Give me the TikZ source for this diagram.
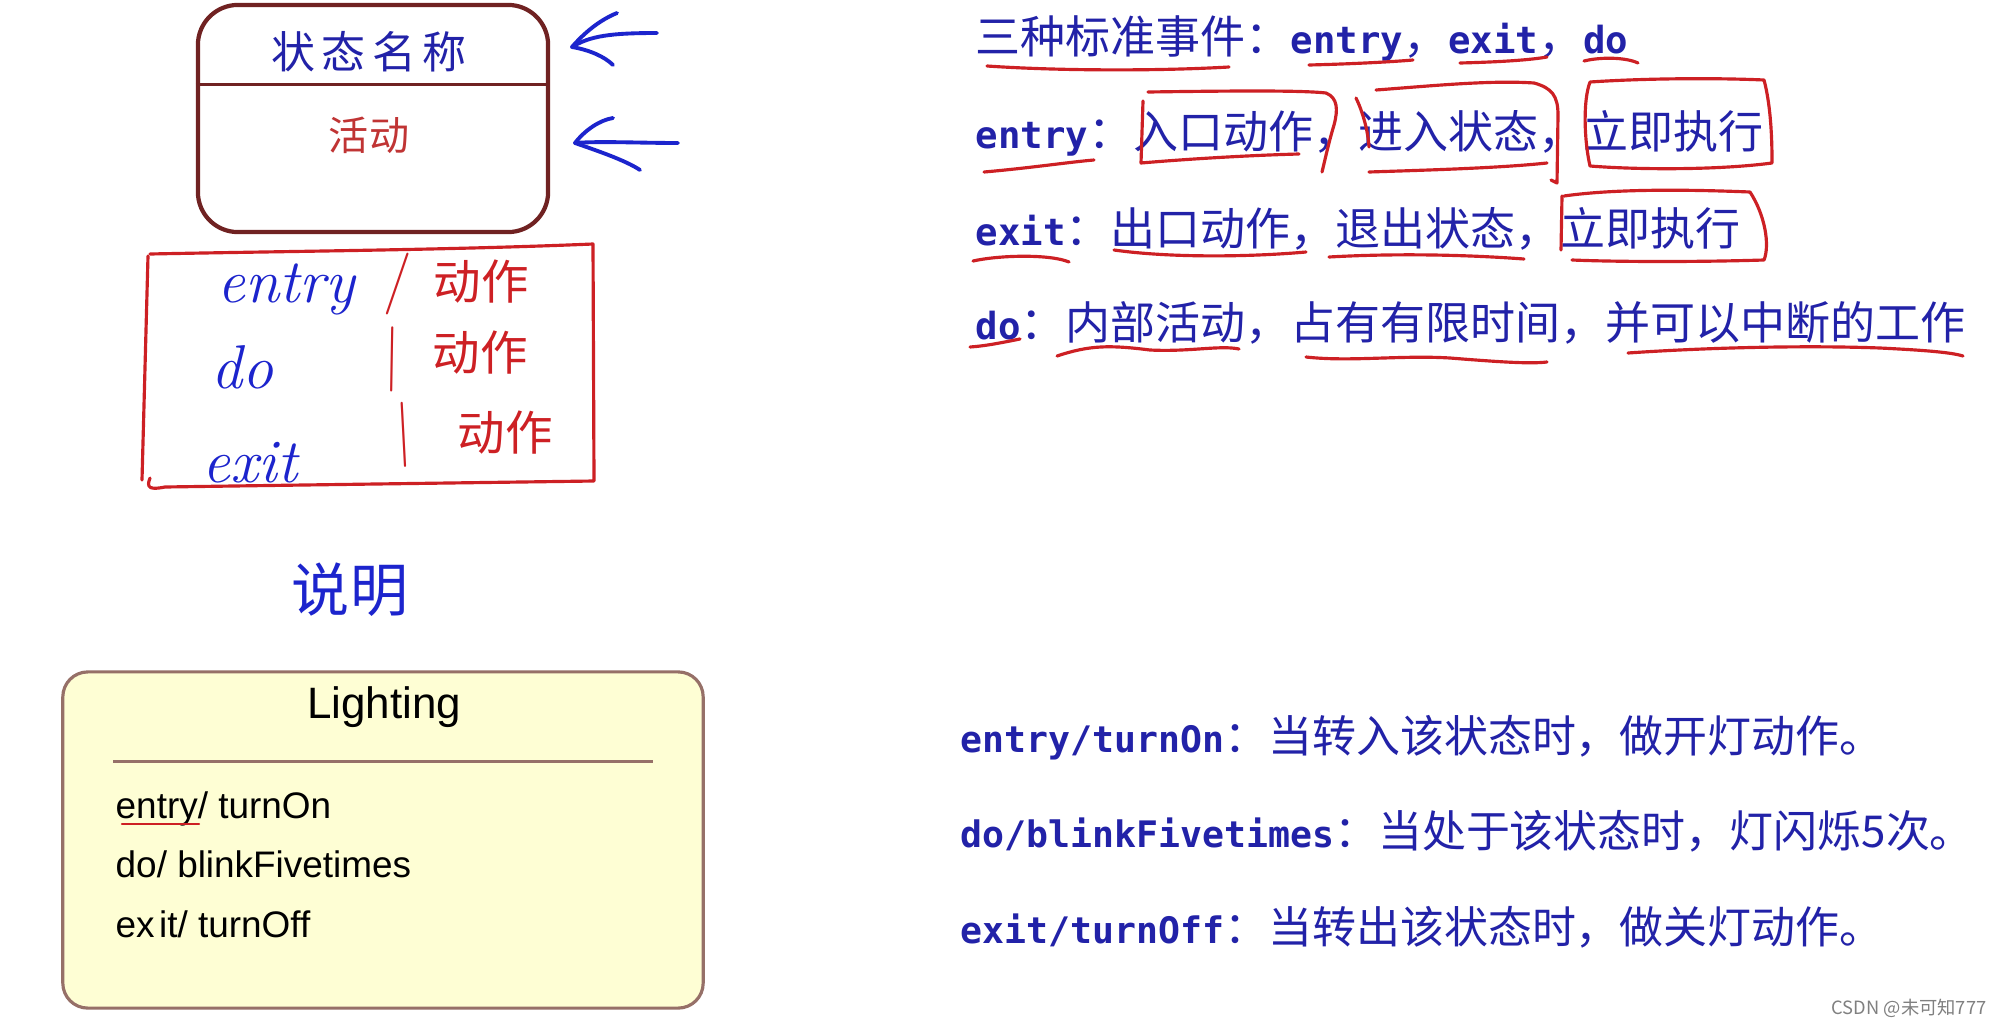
\documentclass[tikz,border=0pt]{standalone}
\usepackage{fontspec}
\usepackage{tikz}
\usetikzlibrary{calc}
\newfontfamily\cjk{Noto Sans CJK SC}
\newfontfamily\cjkwide{Noto Sans CJK SC}[LetterSpace=15]
\newfontfamily\mono{DejaVu Sans Mono}[Scale=0.83]
\newfontfamily\arial{Liberation Sans}
\newcommand{\kw}[1]{{\mono\bfseries #1}}
\definecolor{txtblue}{RGB}{34,34,168}
\definecolor{inkblue}{RGB}{28,36,205}
\definecolor{inkred}{RGB}{205,32,36}
\definecolor{boxline}{RGB}{112,34,34}
\definecolor{actred}{RGB}{192,52,52}
\definecolor{litfill}{RGB}{254,254,212}
\definecolor{litline}{RGB}{150,112,104}
\begin{document}
\begin{tikzpicture}[
  x=0.01cm,y=-0.01cm,
  every node/.style={inner sep=0pt},
  pen/.style={line width=0.9pt,line cap=round,line join=round},
  redpen/.style={pen,draw=inkred},
  bluepen/.style={pen,draw=inkblue,line width=1.1pt},
  statebox/.style={draw=boxline,line width=1.2pt,rounded corners=0.4cm,
    minimum width=3.5cm,minimum height=2.27cm},
  litbox/.style={draw=litline,fill=litfill,line width=0.9pt,rounded corners=0.25cm,
    minimum width=6.4cm,minimum height=3.36cm},
  note/.style={anchor=base west,text=txtblue,font=\cjk\fontsize{12.8pt}{15pt}\selectfont},
  lownote/.style={note,font=\cjk\fontsize{12.5pt}{15pt}\selectfont},
  hand/.style={anchor=base,text=inkblue,font=\itshape\fontsize{17.6pt}{20pt}\selectfont},
  slash/.style={text=inkred,font=\fontsize{17.6pt}{20pt}\selectfont},
  handcjk/.style={text=inkred,font=\cjk\fontsize{13.5pt}{15pt}\selectfont},
  item/.style={anchor=base west,font=\arial\fontsize{10.5pt}{12pt}\selectfont}
]
  \useasboundingbox[fill=white] (0,0) rectangle (1997,1027);

  % State box with its two compartments.
  \node[statebox] (st) at (373,118.5) {};
  \draw[boxline,line width=0.9pt] ([yshift=-0.82cm]st.north west) -- ([yshift=-0.82cm]st.north east);
  \node[text=txtblue,font=\cjkwide\fontsize{12.5pt}{15pt}\selectfont] (stname) at (369,52) {状态名称};
  \node[text=actred,font=\cjk\fontsize{11.4pt}{14pt}\selectfont] (stact) at (369,135) {活动};

  % Hand-drawn arrows pointing at the compartments.
  \coordinate (tipa) at (572,47);
  \coordinate (taila) at (657,33);
  \draw[bluepen] (taila) .. controls (610,33) and (590,36) .. (tipa);
  \draw[bluepen] (tipa) .. controls (585,32) and (600,20) .. (617,13);
  \draw[bluepen] (tipa) .. controls (590,50) and (605,57) .. (613,65);
  \coordinate (tipb) at (575,143);
  \coordinate (tailb) at (678,143);
  \draw[bluepen] (tailb) .. controls (640,143) and (600,141) .. (tipb);
  \draw[bluepen] (tipb) .. controls (585,130) and (600,120) .. (613,118);
  \draw[bluepen] (tipb) .. controls (595,150) and (625,160) .. (640,170);

  % Hand-written summary box.
  \draw[redpen] (150,254) .. controls (300,251) and (450,250) .. (593,244) -- (594,481)
    .. controls (450,483) and (300,485) .. (165,487) .. controls (150,490) and (146,488) .. (150,478);
  \draw[redpen] (148,256) -- (142,480);
  \node[hand] (hwentry) at (286,302) {entry};
  \node[hand] (hwdo) at (242,388) {do};
  \node[hand] (hwexit) at (250,482) {exit};
  \node[slash] (sl1) at (398,284) {/};
  \node[slash,rotate=18] (sl2) at (392,359) {/};
  \node[slash,rotate=22] (sl3) at (404,435) {/};
  \node[handcjk] (act1) at (481,282) {动作};
  \node[handcjk] (act2) at (480,353) {动作};
  \node[handcjk] (act3) at (505,433) {动作};
  \node[text=inkblue,font=\cjk\fontsize{16.5pt}{18pt}\selectfont] (remark) at (350,590) {说明};

  % Example state.
  \node[litbox] (lit) at (383,840) {};
  \draw[litline,line width=0.7pt] ([xshift=0.52cm,yshift=-0.91cm]lit.north west)
    -- ([xshift=-0.52cm,yshift=-0.91cm]lit.north east);
  \node[anchor=base,font=\arial\fontsize{12.5pt}{14pt}\selectfont] (litname) at (384,718) {Lighting};
  \node[item] (liton) at (115,818) {entry/ turnOn};
  \node[item] (litdo) at (115,877) {do/ blinkFivetimes};
  \node[item] (litoff) at (115,937) {ex\kern0.12em it/ turnOff};
  \draw[redpen,line width=0.6pt] (122,824) -- (199,824);

  % Notes on the three events.
  \node[note] (ev) at (975,53) {三种标准事件：\kw{entry}，\kw{exit}，\kw{do}};
  \node[note] (evin) at (975,148) {\kw{entry}：入口动作，进入状态，立即执行};
  \node[note] (evout) at (975,245) {\kw{exit}：出口动作，退出状态，立即执行};
  \node[note] (evdo) at (975,339) {\kw{do}：内部活动，占有有限时间，并可以中断的工作};

  % Red marks on the notes.
  \draw[redpen] (987,66) .. controls (1060,71) and (1160,71) .. (1229,67);
  \draw[redpen] (1309,65) .. controls (1350,64) and (1390,62) .. (1413,60);
  \draw[redpen] (1460,63) .. controls (1500,62) and (1530,60) .. (1547,57);
  \draw[redpen] (1584,61) .. controls (1600,57) and (1625,57) .. (1638,63);
  \draw[redpen] (984,172) .. controls (1030,168) and (1070,162) .. (1094,160);
  \draw[redpen] (1143,101) -- (1141,163) .. controls (1200,158) and (1260,155) .. (1299,154);
  \draw[redpen] (1148,92) .. controls (1220,91) and (1300,90) .. (1326,93)
    .. controls (1338,98) and (1338,110) .. (1334,125) .. controls (1328,145) and (1325,160) .. (1322,172);
  \draw[redpen] (1356,98) .. controls (1362,110) and (1368,130) .. (1369,147);
  \draw[redpen] (1376,90) .. controls (1430,86) and (1490,80) .. (1534,83)
    .. controls (1552,88) and (1558,96) .. (1558,115) -- (1557,183) -- (1551,180);
  \draw[redpen] (1369,172) .. controls (1430,170) and (1500,168) .. (1547,163);
  \draw[redpen] (1590,82) .. controls (1650,78) and (1720,78) .. (1764,80)
    .. controls (1772,110) and (1772,150) .. (1772,163) .. controls (1720,170) and (1640,170) .. (1590,166)
    .. controls (1584,140) and (1583,100) .. (1590,82);
  \draw[redpen] (973,261) .. controls (1000,255) and (1050,254) .. (1069,262);
  \draw[redpen] (1114,250) .. controls (1170,258) and (1250,257) .. (1306,252);
  \draw[redpen] (1329,257) .. controls (1400,253) and (1470,255) .. (1524,259);
  \draw[redpen] (1562,196) -- (1561,250);
  \draw[redpen] (1564,196) .. controls (1620,188) and (1700,190) .. (1750,192)
    .. controls (1765,215) and (1770,245) .. (1764,260) .. controls (1700,262) and (1620,262) .. (1572,260);
  \draw[redpen] (970,347) .. controls (985,346) and (1000,343) .. (1020,339);
  \draw[redpen] (1057,356) .. controls (1090,345) and (1110,345) .. (1150,350)
    .. controls (1190,352) and (1220,345) .. (1239,349);
  \draw[redpen] (1306,357) .. controls (1350,362) and (1400,355) .. (1450,358)
    .. controls (1500,362) and (1530,364) .. (1547,362);
  \draw[redpen] (1628,353) .. controls (1700,348) and (1800,345) .. (1880,348)
    .. controls (1920,350) and (1950,352) .. (1963,356);

  % Meaning of the example.
  \node[lownote] (expon) at (960,752) {\kw{entry/turnOn}：当转入该状态时，做开灯动作。};
  \node[lownote] (expdo) at (960,847) {\kw{do/blinkFivetimes}：当处于该状态时，灯闪烁5次。};
  \node[lownote] (expoff) at (960,943) {\kw{exit/turnOff}：当转出该状态时，做关灯动作。};

  \node[anchor=east,text=black!50,font=\cjk\fontsize{5.2pt}{6pt}\selectfont] (mark) at (1987,1008) {CSDN @未可知777};
\end{tikzpicture}
\end{document}
